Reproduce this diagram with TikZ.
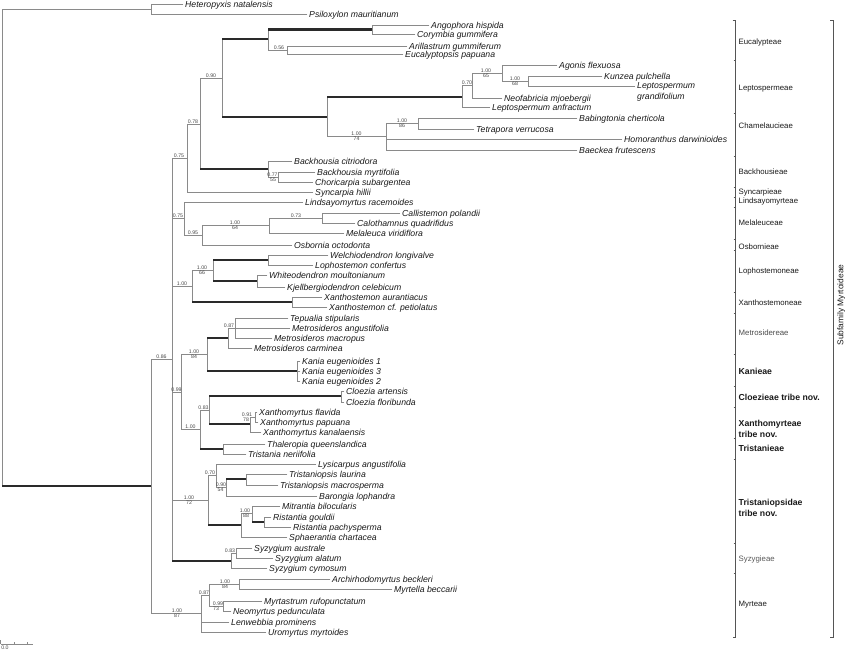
\documentclass[tikz,border=0pt]{standalone}
\usepackage{fontspec}
\setmainfont{Liberation Sans}
\definecolor{lg}{HTML}{8A8A8A}
\definecolor{dg}{HTML}{2A2A2A}
\definecolor{tx}{HTML}{1A1A1A}
\definecolor{sx}{HTML}{4A4A4A}
\definecolor{brk}{HTML}{555555}
\tikzset{
  br/.style={draw=lg, line width=0.9pt, line cap=rect},
  thk/.style={draw=dg, line width=2.3pt},
  tipbase/.style={anchor=west, inner xsep=2pt, inner ysep=0pt, text=tx, font=\itshape\fontsize{8.7}{11}\selectfont},
  tiplab/.style={tipbase, text height=6.2pt, text depth=0pt},
  sup/.style={inner sep=0.5pt, text=sx, font=\fontsize{5.2}{6}\selectfont},
  tribe/.style={anchor=west, inner sep=0.5pt, text=tx, font=\fontsize{7.8}{9}\selectfont},
  tribeb/.style={anchor=west, inner sep=0.5pt, text=tx, align=left, font=\bfseries\fontsize{8.7}{11}\selectfont},
  brkline/.style={draw=brk, line width=0.8pt}
}
\newcommand\tNode[3]{\coordinate (#1) at (#2,#3);}
\newcommand\tTip[4]{\coordinate (#1) at (#2,#3);\node[tiplab] (l#1) at (#1) {#4};}
\newcommand\tEdge[3][br]{\draw[#1] (#2 |- #3) -- (#3);}
\newcommand\tVert[3]{\draw[br] (#1 |- #2) -- (#1 |- #3);}
\newcommand\supA[4]{\node[sup,anchor=south] (#1) at (#2,#3) {#4};}
\newcommand\supB[4]{\node[sup,anchor=north] (#1) at (#2,#3) {#4};}
\begin{document}
\begin{tikzpicture}[x=1pt,y=-1pt]
\useasboundingbox (0,0) rectangle (846,651);
\fill[white] (0,0) rectangle (846,651);
% ---------- tips ----------
\tTip{tHet}{183}{4}{Heteropyxis natalensis}
\tTip{tPsi}{307}{14}{Psiloxylon mauritianum}
\tTip{tAng}{429}{25}{Angophora hispida}
\tTip{tCor}{415}{34}{Corymbia gummifera}
\tTip{tAri}{407}{46}{Arillastrum gummiferum}
\tTip{tEup}{403}{54}{Eucalyptopsis papuana}
\tTip{tAgo}{557}{65}{Agonis flexuosa}
\tTip{tKun}{602}{76}{Kunzea pulchella}
\coordinate (tLgr) at (635,86);
\node[tipbase, align=left] (ltLgr) at (635,91.8) {Leptospermum\\grandifolium};
\tTip{tNeo}{502}{98}{Neofabricia mjoebergii}
\tTip{tLan}{490}{107}{Leptospermum anfractum}
\tTip{tBab}{577}{118}{Babingtonia cherticola}
\tTip{tTet}{474}{129}{Tetrapora verrucosa}
\tTip{tHom}{622}{139}{Homoranthus darwinioides}
\tTip{tBae}{577}{150}{Baeckea frutescens}
\tTip{tBci}{292}{161}{Backhousia citriodora}
\tTip{tBmy}{315}{172}{Backhousia myrtifolia}
\tTip{tCho}{313}{182}{Choricarpia subargentea}
\tTip{tSyn}{313}{192}{Syncarpia hillii}
\tTip{tLin}{303}{202}{Lindsayomyrtus racemoides}
\tTip{tCal}{400}{213}{Callistemon polandii}
\tTip{tCaq}{355}{223}{Calothamnus quadrifidus}
\tTip{tMel}{344}{233}{Melaleuca viridiflora}
\tTip{tOsb}{292}{245}{Osbornia octodonta}
\tTip{tWel}{328}{255}{Welchiodendron longivalve}
\tTip{tLop}{313}{265}{Lophostemon confertus}
\tTip{tWhi}{267}{275}{Whiteodendron moultonianum}
\tTip{tKje}{285}{287}{Kjellbergiodendron celebicum}
\tTip{tXau}{322}{297}{Xanthostemon aurantiacus}
\tTip{tXpe}{327}{307}{Xanthostemon cf. petiolatus}
\tTip{tTep}{288}{318}{Tepualia stipularis}
\tTip{tMan}{290}{328}{Metrosideros angustifolia}
\tTip{tMma}{272}{338}{Metrosideros macropus}
\tTip{tMca}{252}{348}{Metrosideros carminea}
\tTip{tKa1}{300}{361}{Kania eugenioides 1}
\tTip{tKa3}{300}{371}{Kania eugenioides 3}
\tTip{tKa2}{300}{381}{Kania eugenioides 2}
\tTip{tCar}{344}{391}{Cloezia artensis}
\tTip{tCfl}{344}{402}{Cloezia floribunda}
\tTip{tXfl}{257}{412}{Xanthomyrtus flavida}
\tTip{tXpa}{258}{422}{Xanthomyrtus papuana}
\tTip{tXka}{261}{432}{Xanthomyrtus kanalaensis}
\tTip{tTha}{265}{444}{Thaleropia queenslandica}
\tTip{tTne}{246}{454}{Tristania neriifolia}
\tTip{tLys}{316}{464}{Lysicarpus angustifolia}
\tTip{tTla}{287}{474}{Tristaniopsis laurina}
\tTip{tTma}{278}{485}{Tristaniopsis macrosperma}
\tTip{tBar}{317}{496}{Barongia lophandra}
\tTip{tMit}{280}{506}{Mitrantia bilocularis}
\tTip{tRgo}{271}{517}{Ristantia gouldii}
\tTip{tRpa}{291}{527}{Ristantia pachysperma}
\tTip{tSph}{287}{537}{Sphaerantia chartacea}
\tTip{tSau}{252}{548}{Syzygium australe}
\tTip{tSal}{273}{558}{Syzygium alatum}
\tTip{tScy}{267}{568}{Syzygium cymosum}
\tTip{tArc}{330}{579}{Archirhodomyrtus beckleri}
\tTip{tMyb}{392}{589}{Myrtella beccarii}
\tTip{tMyr}{262}{601}{Myrtastrum rufopunctatum}
\tTip{tNeoM}{231}{611}{Neomyrtus pedunculata}
\tTip{tLen}{229}{622}{Lenwebbia prominens}
\tTip{tUro}{266}{632}{Uromyrtus myrtoides}
% ---------- internal nodes ----------
\tNode{R}{2}{247}
\tNode{H}{151}{9}
\tNode{N86}{151}{486}
\tNode{N172}{172}{359}
\tNode{A75}{187}{158}
\tNode{A78}{200}{124}
\tNode{N90}{222}{78}
\tNode{Euc}{268}{39}
\tNode{Ang}{372}{29.5}
\tNode{N56}{287}{50}
\tNode{Lep}{327}{117}
\tNode{LepT}{462}{97}
\tNode{N70}{472}{85.5}
\tNode{N65}{502}{73}
\tNode{N68}{528}{81}
\tNode{Cham}{386}{136.5}
\tNode{Nbab}{418}{123.5}
\tNode{Backh}{268}{169}
\tNode{N77}{278}{177}
\tNode{L75}{184}{218.5}
\tNode{N95}{202}{235.5}
\tNode{N64}{269}{225.5}
\tNode{N73}{322}{218}
\tNode{X100}{192}{286}
\tNode{Loph}{213}{270.5}
\tNode{Wel}{268}{260}
\tNode{Whi}{257}{281}
\tNode{Xan}{292}{302}
\tNode{N99}{181}{392}
\tNode{Met}{207}{354.5}
\tNode{M87}{228}{338}
\tNode{Mtep}{235}{328}
\tNode{Kan}{297}{371}
\tNode{Ncx}{200}{429.5}
\tNode{N83}{209}{410}
\tNode{Cloe}{341}{396}
\tNode{Xm}{250}{424}
\tNode{N91}{255}{417}
\tNode{Trist}{223}{449}
\tNode{T100}{208}{500}
\tNode{Nlys}{216}{475.5}
\tNode{Nbar}{226}{487.5}
\tNode{Tr}{246}{479}
\tNode{Tg}{241}{525}
\tNode{Mi}{252}{513}
\tNode{Ri}{264}{522}
\tNode{Syz}{231}{561}
\tNode{Nsau}{236}{553}
\tNode{Nmyr}{201}{613.5}
\tNode{Nm87}{209}{595}
\tNode{N84}{239}{584}
\tNode{Nm99}{223}{606}
% ---------- vertical bars ----------
\tVert{R}{H}{N86}
\tVert{H}{tHet}{tPsi}
\tVert{N86}{N172}{Nmyr}
\tVert{N172}{A75}{Syz}
\tVert{A75}{A78}{tSyn}
\tVert{A78}{N90}{Backh}
\tVert{N90}{Euc}{Lep}
\tVert{Euc}{Ang}{N56}
\tVert{Ang}{tAng}{tCor}
\tVert{N56}{tAri}{tEup}
\tVert{Lep}{LepT}{Cham}
\tVert{LepT}{N70}{tLan}
\tVert{N70}{N65}{tNeo}
\tVert{N65}{tAgo}{N68}
\tVert{N68}{tKun}{tLgr}
\tVert{Cham}{Nbab}{tBae}
\tVert{Nbab}{tBab}{tTet}
\tVert{Backh}{tBci}{N77}
\tVert{N77}{tBmy}{tCho}
\tVert{L75}{tLin}{N95}
\tVert{N95}{N64}{tOsb}
\tVert{N64}{N73}{tMel}
\tVert{N73}{tCal}{tCaq}
\tVert{X100}{Loph}{Xan}
\tVert{Loph}{Wel}{Whi}
\tVert{Wel}{tWel}{tLop}
\tVert{Whi}{tWhi}{tKje}
\tVert{Xan}{tXau}{tXpe}
\tVert{N99}{Met}{Ncx}
\tVert{Met}{M87}{Kan}
\tVert{M87}{Mtep}{tMca}
\tVert{Mtep}{tTep}{tMma}
\tVert{Kan}{tKa1}{tKa2}
\tVert{Ncx}{N83}{Trist}
\tVert{N83}{Cloe}{Xm}
\tVert{Cloe}{tCar}{tCfl}
\tVert{Xm}{N91}{tXka}
\tVert{N91}{tXfl}{tXpa}
\tVert{Trist}{tTha}{tTne}
\tVert{T100}{Nlys}{Tg}
\tVert{Nlys}{tLys}{Nbar}
\tVert{Nbar}{Tr}{tBar}
\tVert{Tr}{tTla}{tTma}
\tVert{Tg}{Mi}{tSph}
\tVert{Mi}{tMit}{Ri}
\tVert{Ri}{tRgo}{tRpa}
\tVert{Syz}{Nsau}{tScy}
\tVert{Nsau}{tSau}{tSal}
\tVert{Nmyr}{Nm87}{tUro}
\tVert{Nm87}{N84}{Nm99}
\tVert{N84}{tArc}{tMyb}
\tVert{Nm99}{tMyr}{tNeoM}
% ---------- horizontal branches ----------
\tEdge{R}{H}
\tEdge[thk]{R}{N86}
\tEdge{H}{tHet}
\tEdge{H}{tPsi}
\tEdge{N86}{N172}
\tEdge{N86}{Nmyr}
\tEdge{N172}{A75}
\tEdge{N172}{L75}
\tEdge{N172}{X100}
\tEdge{N172}{N99}
\tEdge{N172}{T100}
\tEdge[thk]{N172}{Syz}
\tEdge{A75}{A78}
\tEdge{A75}{tSyn}
\tEdge{A78}{N90}
\tEdge[thk]{A78}{Backh}
\tEdge[thk]{N90}{Euc}
\tEdge[thk]{N90}{Lep}
\tEdge[thk]{Euc}{Ang}
\tEdge{Euc}{N56}
\tEdge{Ang}{tAng}
\tEdge{Ang}{tCor}
\tEdge{N56}{tAri}
\tEdge{N56}{tEup}
\tEdge[thk]{Lep}{LepT}
\tEdge{Lep}{Cham}
\tEdge{LepT}{N70}
\tEdge{LepT}{tLan}
\tEdge{N70}{N65}
\tEdge{N70}{tNeo}
\tEdge{N65}{tAgo}
\tEdge{N65}{N68}
\tEdge{N68}{tKun}
\tEdge{N68}{tLgr}
\tEdge{Cham}{Nbab}
\tEdge{Cham}{tHom}
\tEdge{Cham}{tBae}
\tEdge{Nbab}{tBab}
\tEdge{Nbab}{tTet}
\tEdge{Backh}{tBci}
\tEdge{Backh}{N77}
\tEdge{N77}{tBmy}
\tEdge{N77}{tCho}
\tEdge{L75}{tLin}
\tEdge{L75}{N95}
\tEdge{N95}{N64}
\tEdge{N95}{tOsb}
\tEdge{N64}{N73}
\tEdge{N64}{tMel}
\tEdge{N73}{tCal}
\tEdge{N73}{tCaq}
\tEdge{X100}{Loph}
\tEdge[thk]{X100}{Xan}
\tEdge[thk]{Loph}{Wel}
\tEdge[thk]{Loph}{Whi}
\tEdge{Wel}{tWel}
\tEdge{Wel}{tLop}
\tEdge{Whi}{tWhi}
\tEdge{Whi}{tKje}
\tEdge{Xan}{tXau}
\tEdge{Xan}{tXpe}
\tEdge{N99}{Met}
\tEdge{N99}{Ncx}
\tEdge[thk]{Met}{M87}
\tEdge[thk]{Met}{Kan}
\tEdge{M87}{Mtep}
\tEdge{M87}{tMca}
\tEdge{Mtep}{tTep}
\tEdge{Mtep}{tMan}
\tEdge{Mtep}{tMma}
\tEdge{Kan}{tKa1}
\tEdge{Kan}{tKa3}
\tEdge{Kan}{tKa2}
\tEdge{Ncx}{N83}
\tEdge[thk]{Ncx}{Trist}
\tEdge[thk]{N83}{Cloe}
\tEdge[thk]{N83}{Xm}
\tEdge{Cloe}{tCar}
\tEdge{Cloe}{tCfl}
\tEdge{Xm}{N91}
\tEdge{Xm}{tXka}
\tEdge{N91}{tXfl}
\tEdge{N91}{tXpa}
\tEdge{Trist}{tTha}
\tEdge{Trist}{tTne}
\tEdge{T100}{Nlys}
\tEdge[thk]{T100}{Tg}
\tEdge{Nlys}{tLys}
\tEdge{Nlys}{Nbar}
\tEdge[thk]{Nbar}{Tr}
\tEdge{Nbar}{tBar}
\tEdge{Tr}{tTla}
\tEdge{Tr}{tTma}
\tEdge{Tg}{Mi}
\tEdge{Tg}{tSph}
\tEdge{Mi}{tMit}
\tEdge[thk]{Mi}{Ri}
\tEdge{Ri}{tRgo}
\tEdge{Ri}{tRpa}
\tEdge{Syz}{Nsau}
\tEdge{Syz}{tScy}
\tEdge{Nsau}{tSau}
\tEdge{Nsau}{tSal}
\tEdge{Nmyr}{Nm87}
\tEdge{Nmyr}{tLen}
\tEdge{Nmyr}{tUro}
\tEdge{Nm87}{N84}
\tEdge{Nm87}{Nm99}
\tEdge{N84}{tArc}
\tEdge{N84}{tMyb}
\tEdge{Nm99}{tMyr}
\tEdge{Nm99}{tNeoM}
% ---------- support values ----------
\supA{s90}{211}{78}{0.90}
\supA{s56}{279}{50}{0.56}
\supA{s78}{193}{124}{0.78}
\supA{s75a}{179}{158}{0.75}
\supA{s77}{272.5}{177}{0.77}
\supB{b55}{273}{177}{55}
\supA{s75b}{178}{218.5}{0.75}
\supA{s95}{193}{235.5}{0.95}
\supA{s64}{235}{225.5}{1.00}
\supB{b64}{235}{225.5}{64}
\supA{s73}{296}{218}{0.73}
\supA{s66}{202}{270.5}{1.00}
\supB{b66}{202}{270.5}{66}
\supA{sX}{182}{286}{1.00}
\supA{sM87}{229}{328}{0.87}
\supA{s84}{194}{354.5}{1.00}
\supB{b84}{194}{354.5}{84}
\supA{s86}{161.5}{359}{0.86}
\supA{s99}{176.5}{392}{0.99}
\supA{s83}{203.5}{410}{0.83}
\supA{s91}{247}{417}{0.91}
\supB{b78}{246}{417}{78}
\supA{sCx}{190.5}{429.5}{1.00}
\supA{s70b}{210}{475.5}{0.70}
\supA{s90b}{221}{487.5}{0.90}
\supB{b54}{220.5}{487.5}{54}
\supA{s72}{189}{500}{1.00}
\supB{b72}{189}{500}{72}
\supA{s88}{245}{513}{1.00}
\supB{b88}{246}{513}{88}
\supA{s83s}{230}{553}{0.83}
\supA{s84m}{225}{584}{1.00}
\supB{b84m}{225}{584}{84}
\supA{s87m}{204}{595}{0.87}
\supA{s99m}{218}{606}{0.99}
\supB{b73}{216}{606}{73}
\supA{s87}{177}{613.5}{1.00}
\supB{b87}{177}{613.5}{87}
\supA{s65}{486}{73}{1.00}
\supB{b65}{486}{73}{65}
\supA{s70}{467}{85.5}{0.70}
\supA{s68}{515}{81}{1.00}
\supB{b68}{515}{81}{68}
\supA{s86b}{402}{123.5}{1.00}
\supB{b86}{402}{123.5}{86}
\supA{s74}{356.5}{136.5}{1.00}
\supB{b74}{356.5}{136.5}{74}
% ---------- brackets ----------
\coordinate (iT) at (735.5,20);
\coordinate (iB) at (735.5,637);
\draw[brkline] ([xshift=-3pt]iT) -- (iT) -- (iB) -- ([xshift=-3pt]iB);
\foreach \yy in {60,113,156,187,197,207.5,239,250,292,313,354,386,407,438,459,543,573}
  \draw[brkline] (733.5,\yy) -- (735.5,\yy);
\coordinate (oT) at (833,20);
\coordinate (oB) at (833,637);
\draw[brkline] ([xshift=-3pt]oT) -- (oT) -- (oB) -- ([xshift=-3pt]oB);
\node[tribe] (trE) at (738,42) {Eucalypteae};
\node[tribe] (trL) at (738,89) {Leptospermeae};
\node[tribe] (trC) at (738,126) {Chamelaucieae};
\node[tribe] (trB) at (738,172) {Backhousieae};
\node[tribe] (trS) at (738,192.5) {Syncarpieae};
\node[tribe] (trLi) at (738,201.5) {Lindsayomyrteae};
\node[tribe] (trMe) at (738,223) {Melaleuceae};
\node[tribe] (trO) at (738,247) {Osbornieae};
\node[tribe] (trLo) at (738,271) {Lophostemoneae};
\node[tribe] (trX) at (738,303) {Xanthostemoneae};
\node[tribe, text=black!70] (trMt) at (738,333) {Metrosidereae};
\node[tribeb] (trK) at (738,371) {Kanieae};
\node[tribeb] (trCl) at (738,397) {Cloezieae tribe nov.};
\node[tribeb] (trXm) at (738,428.5) {Xanthomyrteae\\tribe nov.};
\node[tribeb] (trT) at (738,448) {Tristanieae};
\node[tribeb] (trTp) at (738,507.5) {Tristaniopsidae\\tribe nov.};
\node[tribe, text=black!65] (trSy) at (738,559) {Syzygieae};
\node[tribe] (trMy) at (738,605) {Myrteae};
\node[rotate=90, inner sep=0pt, text=tx, font=\fontsize{8.4}{10}\selectfont] (sub) at (841.3,305) {Subfamily Myrtoideae};
% ---------- scale bar ----------
\coordinate (sc0) at (0.5,644);
\coordinate (sc1) at (33,644);
\draw[draw=lg, line width=0.7pt] (sc0) -- (sc1);
\draw[draw=lg, line width=0.7pt] (0.5,640) -- (sc0);
\draw[draw=lg, line width=0.7pt] (14,642) -- (14,644);
\draw[draw=lg, line width=0.7pt] (27,642) -- (27,644);
\node[sup, anchor=north] (sclab) at (5,645.5) {0.0};
\end{tikzpicture}
\end{document}
